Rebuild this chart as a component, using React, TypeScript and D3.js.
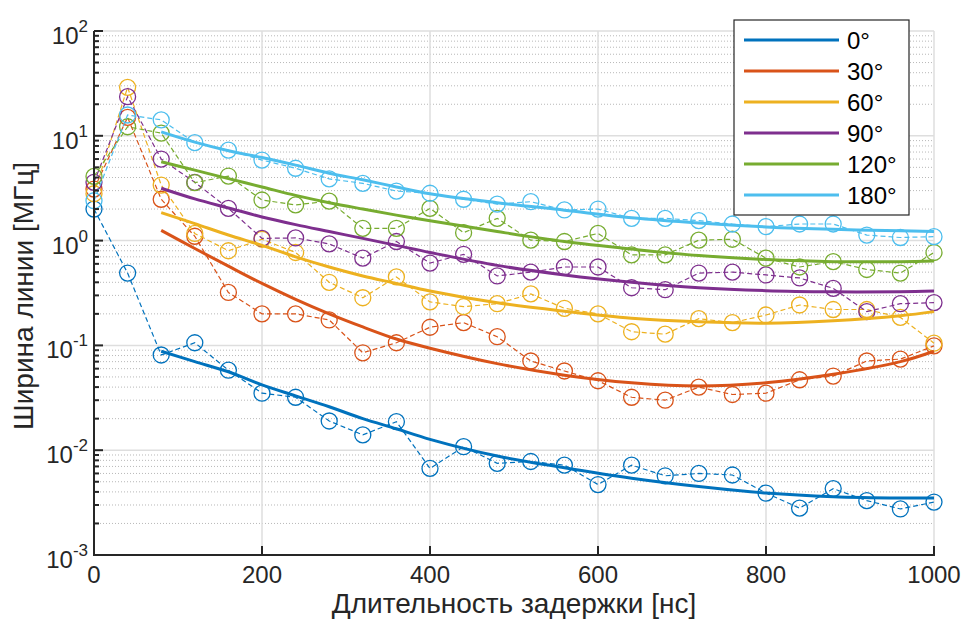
import React from 'react';
import * as d3 from 'd3';

// delay times, ns
const delays = [0, 40, 80, 120, 160, 200, 240, 280, 320, 360, 400, 440, 480, 520, 560, 600, 640, 680, 720, 760, 800, 840, 880, 920, 960, 1000];

// measured linewidths, MHz
const w0 = [2.0, 0.49, 0.081, 0.106, 0.058, 0.035, 0.032, 0.019, 0.014, 0.0187, 0.0067, 0.0108, 0.0075, 0.0078, 0.0072, 0.0047, 0.0072, 0.0057, 0.006, 0.0058, 0.0039, 0.0028, 0.0043, 0.0033, 0.00275, 0.0032];
const w30 = [3.1, 15, 2.48, 1.1, 0.32, 0.2, 0.2, 0.175, 0.085, 0.106, 0.149, 0.165, 0.121, 0.071, 0.057, 0.046, 0.032, 0.03, 0.04, 0.034, 0.035, 0.047, 0.051, 0.071, 0.074, 0.099];
const w60 = [2.8, 29, 3.39, 1.17, 0.8, 1.03, 0.77, 0.4, 0.285, 0.45, 0.26, 0.234, 0.25, 0.31, 0.226, 0.2, 0.135, 0.128, 0.18, 0.165, 0.195, 0.243, 0.22, 0.22, 0.185, 0.105];
const w90 = [3.6, 23.6, 6.0, 3.6, 2.03, 1.05, 1.06, 0.93, 0.68, 0.98, 0.61, 0.74, 0.46, 0.5, 0.56, 0.56, 0.355, 0.34, 0.49, 0.5, 0.47, 0.44, 0.35, 0.21, 0.25, 0.256];
const w120 = [4.1, 12.2, 10.6, 3.57, 4.13, 2.44, 2.19, 2.38, 1.31, 1.31, 2.03, 1.19, 1.63, 1.01, 0.98, 1.17, 0.73, 0.73, 1.01, 1.03, 0.68, 0.56, 0.63, 0.53, 0.49, 0.77];
const w180 = [2.4, 15.8, 14.2, 8.6, 7.3, 5.87, 4.9, 3.88, 3.52, 2.97, 2.83, 2.48, 2.23, 2.35, 1.96, 2.0, 1.63, 1.63, 1.55, 1.44, 1.36, 1.44, 1.44, 1.13, 1.07, 1.09];

// fitted curves
const fitDelays = [80, 120, 160, 200, 240, 280, 320, 360, 400, 480, 560, 640, 720, 800, 880, 960, 1000];
const fit0 = [0.088, 0.07, 0.056, 0.042, 0.033, 0.026, 0.02, 0.016, 0.0127, 0.0088, 0.0068, 0.0054, 0.0045, 0.0039, 0.0036, 0.0035, 0.0035];
const fit30 = [1.25, 0.84, 0.57, 0.39, 0.275, 0.2, 0.15, 0.115, 0.094, 0.067, 0.052, 0.044, 0.041, 0.044, 0.053, 0.07, 0.088];
const fit60 = [1.85, 1.45, 1.13, 0.9, 0.7, 0.56, 0.46, 0.39, 0.33, 0.255, 0.212, 0.182, 0.168, 0.163, 0.172, 0.192, 0.21];
const fit90 = [3.16, 2.5, 2.05, 1.68, 1.42, 1.22, 1.05, 0.9, 0.77, 0.58, 0.47, 0.4, 0.355, 0.333, 0.325, 0.325, 0.33];
const fit120 = [5.66, 4.7, 3.9, 3.25, 2.7, 2.3, 2.0, 1.75, 1.55, 1.22, 0.98, 0.83, 0.72, 0.66, 0.63, 0.63, 0.64];
const fit180 = [10.9, 8.7, 7.2, 6.2, 5.25, 4.4, 3.8, 3.25, 2.8, 2.3, 1.95, 1.65, 1.47, 1.35, 1.28, 1.24, 1.22];

const labels = ['0°', '30°', '60°', '90°', '120°', '180°'];
const colors = ['#0072BD', '#D95319', '#EDB120', '#7E2F8E', '#77AC30', '#4DBEEE'];
const measured = [w0, w30, w60, w90, w120, w180];
const fits = [fit0, fit30, fit60, fit90, fit120, fit180];

const xTicks = [0, 200, 400, 600, 800, 1000];
const yExps = [-3, -2, -1, 0, 1, 2];

const FONT = '"Liberation Sans", Arial, Helvetica, sans-serif';
const INK = '#262626';

export default function App() {
    const left = 94, right = 934, top = 31, bottom = 555;
    const x = d3.scaleLinear().domain([0, 1000]).range([left, right]);
    const y = d3.scaleLog().domain([1e-3, 1e2]).range([bottom, top]);

    const minorVals: number[] = [];
    yExps.slice(0, -1).forEach(e => {
        for (let k = 2; k <= 9; k++) minorVals.push(k * Math.pow(10, e));
    });

    const dataLine = d3.line<number>()
        .x((_, i) => x(delays[i]))
        .y(d => y(d));
    const fitLine = d3.line<number>()
        .x((_, i) => x(fitDelays[i]))
        .y(d => y(d))
        .curve(d3.curveCatmullRom.alpha(0.5));

    const legX = 734, legY = 20, legW = 175, legH = 195;

    return (
        <svg width={963} height={619} style={{ position: 'absolute', left: 0, top: 0, background: '#fff' }}
            fontFamily={FONT}>
            <rect x={0} y={0} width={963} height={619} fill="#fff" />

            {/* minor grid */}
            {minorVals.map(v => (
                <line key={'mg' + v} x1={left} x2={right} y1={y(v)} y2={y(v)}
                    stroke="#b8b8b8" strokeWidth={1} strokeDasharray="1,2" />
            ))}
            {/* major grid */}
            {yExps.map(e => (
                <line key={'gy' + e} x1={left} x2={right} y1={y(Math.pow(10, e))} y2={y(Math.pow(10, e))}
                    stroke="#dedede" strokeWidth={1.5} />
            ))}
            {xTicks.slice(1).map(t => (
                <line key={'gx' + t} x1={x(t)} x2={x(t)} y1={top} y2={bottom}
                    stroke="#dedede" strokeWidth={1.5} />
            ))}

            {/* measured points */}
            {measured.map((s, si) => (
                <g key={'m' + si}>
                    <path d={dataLine(s) || ''} fill="none" stroke={colors[si]} strokeWidth={1.2} strokeDasharray="5,3" />
                    {s.map((v, i) => (
                        <circle key={i} cx={x(delays[i])} cy={y(v)} r={8} fill="none" stroke={colors[si]} strokeWidth={1.3} />
                    ))}
                </g>
            ))}

            {/* fits */}
            {fits.map((f, si) => (
                <path key={'f' + si} d={fitLine(f) || ''} fill="none" stroke={colors[si]} strokeWidth={3} />
            ))}

            {/* axes */}
            <line x1={left} x2={left} y1={top} y2={bottom + 1} stroke={INK} strokeWidth={2} />
            <line x1={left - 1} x2={right + 1} y1={bottom} y2={bottom} stroke={INK} strokeWidth={2} />
            {yExps.map(e => (
                <line key={'ty' + e} x1={left} x2={left + 9} y1={y(Math.pow(10, e))} y2={y(Math.pow(10, e))}
                    stroke={INK} strokeWidth={2} />
            ))}
            {minorVals.map(v => (
                <line key={'tm' + v} x1={left} x2={left + 5} y1={y(v)} y2={y(v)} stroke={INK} strokeWidth={2} />
            ))}
            {xTicks.slice(1).map(t => (
                <line key={'tx' + t} x1={x(t)} x2={x(t)} y1={bottom} y2={bottom - 9} stroke={INK} strokeWidth={2} />
            ))}

            {/* tick labels */}
            {xTicks.map(t => (
                <text key={'lx' + t} x={x(t)} y={583} textAnchor="middle" fontSize={24} fill={INK}>{t}</text>
            ))}
            {yExps.map(e => (
                <text key={'ly' + e} x={88} y={y(Math.pow(10, e)) + 13} textAnchor="end" fontSize={24} fill={INK}>
                    10<tspan dy={-12} fontSize={17}>{e}</tspan>
                </text>
            ))}

            {/* axis titles */}
            <text x={(left + right) / 2} y={613} textAnchor="middle" fontSize={28} fill={INK}>
                Длительность задержки [нс]
            </text>
            <text transform={`translate(33, 296) rotate(-90)`} textAnchor="middle" fontSize={28} fill={INK}>
                Ширина линии [МГц]
            </text>

            {/* legend */}
            <rect x={legX} y={legY} width={legW} height={legH} fill="#fff" stroke={INK} strokeWidth={1.2} />
            {labels.map((lab, i) => {
                const cy = legY + 20 + i * 31;
                return (
                    <g key={'lg' + i}>
                        <line x1={744} x2={839} y1={cy} y2={cy} stroke={colors[i]} strokeWidth={3} />
                        <text x={847} y={cy + 9} fontSize={24} fill="#000">{lab}</text>
                    </g>
                );
            })}
        </svg>
    );
}
